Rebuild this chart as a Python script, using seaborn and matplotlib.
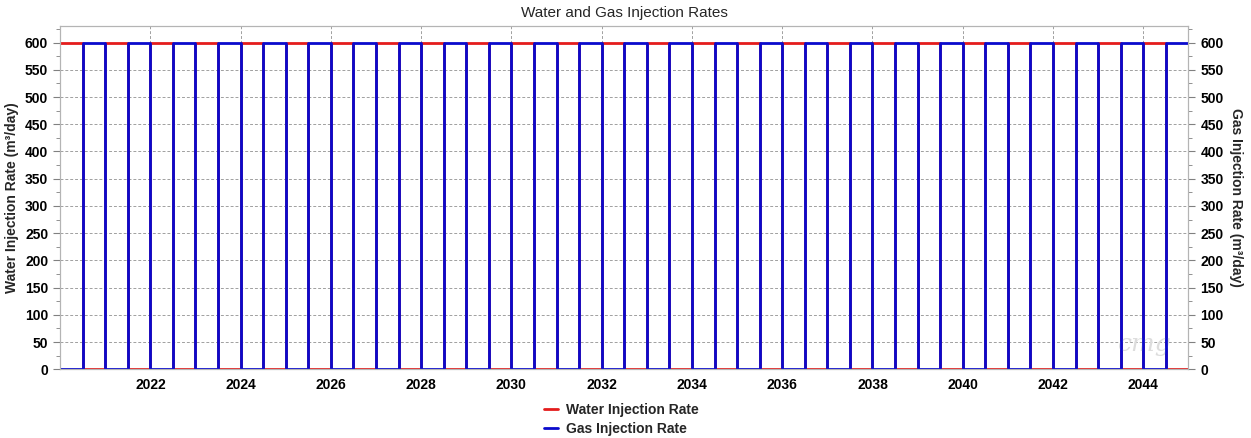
import matplotlib
matplotlib.use("Agg")
import matplotlib.pyplot as plt
from matplotlib.ticker import MultipleLocator
import seaborn as sns

# step change times (decimal year) and rates in m3/day
anos = [2020.0, 2020.5, 2021.0, 2021.5, 2022.0, 2022.5, 2023.0, 2023.5, 2024.0, 2024.5,
        2025.0, 2025.5, 2026.0, 2026.5, 2027.0, 2027.5, 2028.0, 2028.5, 2029.0, 2029.5,
        2030.0, 2030.5, 2031.0, 2031.5, 2032.0, 2032.5, 2033.0, 2033.5, 2034.0, 2034.5,
        2035.0, 2035.5, 2036.0, 2036.5, 2037.0, 2037.5, 2038.0, 2038.5, 2039.0, 2039.5,
        2040.0, 2040.5, 2041.0, 2041.5, 2042.0, 2042.5, 2043.0, 2043.5, 2044.0, 2044.5,
        2045.0]
agua = [600, 0, 600, 0, 600, 0, 600, 0, 600, 0,
        600, 0, 600, 0, 600, 0, 600, 0, 600, 0,
        600, 0, 600, 0, 600, 0, 600, 0, 600, 0,
        600, 0, 600, 0, 600, 0, 600, 0, 600, 0,
        600, 0, 600, 0, 600, 0, 600, 0, 600, 0,
        0]
gas = [0, 600, 0, 600, 0, 600, 0, 600, 0, 600,
       0, 600, 0, 600, 0, 600, 0, 600, 0, 600,
       0, 600, 0, 600, 0, 600, 0, 600, 0, 600,
       0, 600, 0, 600, 0, 600, 0, 600, 0, 600,
       0, 600, 0, 600, 0, 600, 0, 600, 0, 600,
       600]
anos_rotulo = [2022, 2024, 2026, 2028, 2030, 2032, 2034, 2036, 2038, 2040, 2042, 2044]

sns.set_style("white")
plt.rcParams["font.family"] = ["Liberation Sans", "DejaVu Sans"]

fig, ax = plt.subplots(figsize=(12.51, 4.38), dpi=100)
fig.subplots_adjust(left=0.048, right=0.95, top=0.94, bottom=0.157)
ax2 = ax.twinx()

sns.lineplot(x=anos, y=agua, ax=ax, color="#e41c1c", linewidth=2, drawstyle="steps-post",
             estimator=None, label="Water Injection Rate", legend=False)
sns.lineplot(x=anos, y=gas, ax=ax2, color="#0a0acc", linewidth=2, drawstyle="steps-post",
             estimator=None, label="Gas Injection Rate", legend=False)

for a in (ax, ax2):
    a.set_xlim(2020.0, 2045.0)
    a.set_ylim(0, 630)
    a.yaxis.set_major_locator(MultipleLocator(50))
    a.yaxis.set_minor_locator(MultipleLocator(25))
    for s in a.spines.values():
        s.set_color("#b4b4b4")
    a.tick_params(which="both", colors="#808080", labelcolor="black", labelsize=10)
    a.tick_params(which="major", length=5)
    a.tick_params(which="minor", length=3)
    for t in a.get_yticklabels():
        t.set_fontweight("bold")

ax.set_xticks(anos_rotulo)
ax.set_xticklabels([str(v) for v in anos_rotulo], fontweight="bold")
ax.xaxis.set_minor_locator(MultipleLocator(0.5))
ax.tick_params(axis="x", which="both", direction="in", pad=6)
ax.tick_params(axis="y", which="both", left=True, direction="out")
ax2.tick_params(axis="y", which="both", right=True, direction="out")
ax.grid(True, which="major", color="#a0a0a0", linestyle=(0, (3, 2)), linewidth=0.7)
ax.set_axisbelow(True)

ax.set_ylabel("Water Injection Rate (m³/day)", fontweight="bold", fontsize=10)
ax2.set_ylabel("Gas Injection Rate (m³/day)", fontweight="bold", fontsize=10,
               rotation=270, labelpad=14)
ax.set_xlabel("")
ax.set_title("Water and Gas Injection Rates", fontsize=11, pad=7)

ax.text(0.985, 0.04, "cmg", transform=ax.transAxes, ha="right", va="bottom",
        fontsize=18, color="#dddddd", family="DejaVu Serif", style="italic")

h1, l1 = ax.get_legend_handles_labels()
h2, l2 = ax2.get_legend_handles_labels()
fig.legend(h1 + h2, l1 + l2, loc="upper center", bbox_to_anchor=(0.497, 0.108),
           frameon=False, prop={"weight": "bold", "size": 10}, handlelength=1.0,
           handletextpad=0.6, labelspacing=0.35)

plt.savefig("out.png", dpi=100)
